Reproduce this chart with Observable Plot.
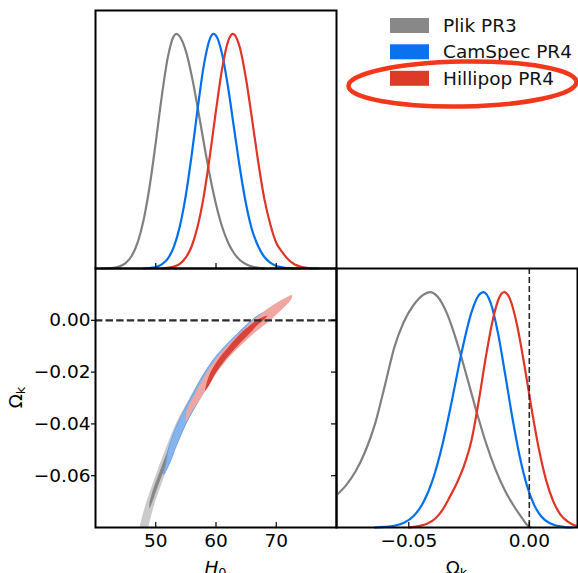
<!DOCTYPE html>
<html><head><meta charset="utf-8">
<script src="https://cdn.jsdelivr.net/npm/d3@7"></script>
<script src="https://cdn.jsdelivr.net/npm/@observablehq/plot@0.6"></script>
<style>
html,body{margin:0;padding:0;overflow:hidden;background:#fff;}
#chart{position:relative;width:578px;height:573px;font-family:"DejaVu Sans",sans-serif;}
</style></head><body><div id="chart"></div>
<script>
// ---------- data ----------
const seriesNames = ["Plik PR3", "CamSpec PR4", "Hillipop PR4"];
const lineColors = ["#808080", "#006FED", "#E03424"];
const patchColors = ["#888888", "#0a72ec", "#de3a28"];

const h0Domain = [40, 80];
const okDomain = [-0.08, 0.02];
const densDomain = [0, 1.1];
const h0Ticks = [50, 60, 70];
const okTicksY = [0, -0.02, -0.04, -0.06];
const okTicksX = [-0.05, 0];

// 1D marginal of H0 (H0, normalised density)
const h0Plik = [[41,0],[42,0.001],[43,0.003],[44,0.009],[45,0.023],[46,0.053],[47,0.111],[48,0.209],[49,0.353],[50,0.537],[51,0.734],[52,0.9],[53,0.991],[53.4,1],[54,0.989],[55,0.927],[56,0.818],[57,0.68],[58,0.533],[59,0.393],[60,0.274],[61,0.179],[62,0.111],[63,0.065],[64,0.035],[65,0.018],[66,0.008],[67,0.003],[68,0]];
const h0CamSpec = [[48,0],[49,0.002],[50,0.0064],[51,0.0174],[52,0.042],[53,0.092],[54,0.18],[55,0.314],[56,0.491],[57,0.69],[58,0.869],[59,0.98],[59.6,1],[60,0.993],[61,0.916],[62,0.774],[63,0.597],[64,0.422],[65,0.273],[66,0.163],[67,0.095],[68,0.05],[69,0.025],[70,0.011],[71,0.005],[72,0.002],[74,0]];
const h0Hillipop = [[51,0],[52,0.003],[53,0.008],[54,0.02],[55,0.047],[56,0.097],[57,0.184],[58,0.313],[59,0.483],[60,0.674],[61,0.849],[62,0.968],[62.8,1],[63,0.998],[64,0.938],[65,0.806],[66,0.634],[67,0.456],[68,0.3],[69,0.19],[70,0.11],[71,0.07],[72,0.038],[73,0.018],[74,0.008],[75,0.003],[77,0]];

// 1D marginal of Omega_k
const okPlik = [[-0.08,0.137],[-0.076,0.18],[-0.072,0.24],[-0.068,0.325],[-0.064,0.44],[-0.06,0.6],[-0.056,0.765],[-0.052,0.875],[-0.048,0.945],[-0.044,0.988],[-0.0413,1],[-0.038,0.98],[-0.034,0.905],[-0.03,0.786],[-0.026,0.644],[-0.022,0.496],[-0.018,0.36],[-0.014,0.246],[-0.01,0.155],[-0.006,0.085],[-0.003,0.04],[-0.001,0.012],[0.0005,0]];
const okCamSpec = [[-0.064,0],[-0.06,0.0024],[-0.056,0.0073],[-0.052,0.02],[-0.048,0.049],[-0.044,0.106],[-0.04,0.205],[-0.036,0.354],[-0.032,0.545],[-0.028,0.748],[-0.024,0.914],[-0.021,0.986],[-0.019,1],[-0.016,0.953],[-0.013,0.826],[-0.01,0.65],[-0.007,0.465],[-0.004,0.303],[-0.001,0.179],[0.002,0.096],[0.005,0.047],[0.008,0.021],[0.011,0.0084],[0.014,0.003],[0.018,0]];
const okHillipop = [[-0.05,0],[-0.048,0.003],[-0.045,0.008],[-0.042,0.018],[-0.039,0.038],[-0.036,0.075],[-0.033,0.13],[-0.03,0.19],[-0.027,0.265],[-0.024,0.37],[-0.021,0.536],[-0.018,0.726],[-0.015,0.889],[-0.0125,0.976],[-0.0104,1],[-0.008,0.97],[-0.005,0.856],[-0.002,0.687],[0.001,0.501],[0.004,0.332],[0.007,0.2],[0.01,0.11],[0.013,0.054],[0.016,0.025],[0.019,0.008],[0.02,0.005]];

// 2D contours (H0, Omega_k), closed outlines
const plikOuter = [[46.85,-0.086],[47.3,-0.08],[48.45,-0.07],[49.95,-0.06],[51.55,-0.05],[53.3,-0.04],[55.6,-0.03],[58.1,-0.02],[59.9,-0.015],[61.0,-0.0125],[61.2,-0.015],[59.7,-0.02],[57.3,-0.03],[55.0,-0.04],[53.1,-0.05],[51.45,-0.06],[49.9,-0.07],[48.75,-0.08],[48.25,-0.086]];
const plikInner = [[48.95,-0.0725],[49.0,-0.07],[49.6,-0.065],[50.4,-0.06],[51.2,-0.055],[52.05,-0.05],[52.95,-0.045],[53.9,-0.04],[54.65,-0.0365],[54.45,-0.04],[53.55,-0.045],[52.7,-0.05],[51.85,-0.055],[51.0,-0.06],[50.2,-0.065],[49.45,-0.07]];
const camspecOuter = [[51.3,-0.0595],[51.7,-0.055],[52.05,-0.05],[52.75,-0.045],[53.6,-0.04],[54.65,-0.035],[55.8,-0.03],[56.95,-0.025],[58.15,-0.02],[59.6,-0.015],[61.45,-0.01],[63.6,-0.005],[65.9,0],[67.4,0.0025],[68.8,0.0036],[68.95,0.0018],[68.4,0],[65.8,-0.005],[63.55,-0.01],[61.55,-0.015],[60.0,-0.02],[58.65,-0.025],[57.4,-0.03],[56.15,-0.035],[55.0,-0.04],[54.05,-0.045],[53.15,-0.05],[52.35,-0.055]];
const hillipopOuter = [[55.0,-0.0392],[55.15,-0.035],[56.15,-0.03],[57.3,-0.025],[58.5,-0.02],[59.95,-0.015],[61.8,-0.01],[63.95,-0.005],[66.2,0],[68.9,0.005],[71.4,0.0085],[72.6,0.0097],[72.5,0.0082],[71.3,0.005],[69.0,0],[66.3,-0.005],[63.95,-0.01],[61.85,-0.015],[60.2,-0.02],[58.8,-0.025],[57.45,-0.03],[56.0,-0.035]];
const hillipopInner = [[58.2,-0.0272],[58.35,-0.025],[59.1,-0.02],[60.4,-0.015],[62.15,-0.01],[64.1,-0.005],[65.6,-0.002],[66.75,0],[68.5,0.0018],[67.85,0],[66.8,-0.002],[65.6,-0.005],[63.5,-0.01],[61.6,-0.015],[60.05,-0.02],[58.9,-0.025]];

// ---------- layout helpers ----------
const FONT = "DejaVu Sans";
const FS = 18.5;
const chart = document.getElementById("chart");
function place(svg, left, top) {
  svg.style.position = "absolute";
  svg.style.left = left + "px";
  svg.style.top = top + "px";
  svg.style.background = "none";
  svg.style.overflow = "visible";
  svg.style.maxWidth = "none";
  chart.appendChild(svg);
  return svg;
}
const fx = v => v;
const px = d => d[0], py = d => d[1];
const fmt2 = d3.format(".2f");
const lineOpts = (c) => ({x: px, y: py, stroke: c, strokeWidth: 2.2, curve: "monotone-x"});
const polyOpts = (fill, stroke, sw) => ({x: px, y: py, fill, stroke: stroke || "none", strokeWidth: sw || 0, curve: "catmull-rom-closed", clip: true});

// ---------- panel A: H0 marginal ----------
const wA = 340, hA = 272, fwA = 241, fhA = 258;
const A = Plot.plot({
  width: wA, height: hA, marginLeft: 95, marginRight: 4, marginTop: 10, marginBottom: 4,
  style: {fontFamily: FONT},
  x: {domain: h0Domain, axis: null},
  y: {domain: densDomain, axis: null},
  marks: [
    Plot.line(h0Plik, lineOpts(lineColors[0])),
    Plot.line(h0CamSpec, lineOpts(lineColors[1])),
    Plot.line(h0Hillipop, lineOpts(lineColors[2])),
    Plot.ruleX(h0Ticks, {x: fx, insetTop: fhA - 5, stroke: "black", strokeWidth: 1.2}),
    Plot.frame({stroke: "black", strokeWidth: 2})
  ]
});
place(A, 0, 0);

// ---------- panel B: 2D H0 vs Omega_k ----------
const wB = 340, hB = 330, fwB = 241, fhB = 259;
const B = Plot.plot({
  width: wB, height: hB, marginLeft: 95, marginRight: 4, marginTop: 10, marginBottom: 61,
  style: {fontFamily: FONT},
  x: {domain: h0Domain, axis: null},
  y: {domain: okDomain, axis: null},
  marks: [
    Plot.line(plikOuter, polyOpts("#cbcbcb")),
    Plot.line(plikInner, polyOpts("#878787")),
    Plot.line(camspecOuter, polyOpts("#86b5ee", "#5f9be6", 0.8)),
    Plot.line(hillipopOuter, polyOpts("#f0a7a1")),
    Plot.line(hillipopInner, polyOpts("#d8443a")),
    Plot.ruleY([0], {y: fx, stroke: "#2b2b2b", strokeWidth: 2.2, strokeDasharray: "7.4,3.2"}),
    Plot.ruleX(h0Ticks, {x: fx, insetTop: fhB - 5, stroke: "black", strokeWidth: 1.2}),
    Plot.ruleY(okTicksY, {y: fx, insetLeft: fwB - 5, stroke: "black", strokeWidth: 1.2}),
    Plot.ruleY(okTicksY, {y: fx, insetRight: fwB - 4, dx: -4, stroke: "black", strokeWidth: 1.2}),
    Plot.text(h0Ticks, {x: fx, frameAnchor: "bottom", lineAnchor: "top", dy: 6, text: d => String(d), fontSize: FS, fill: "black"}),
    Plot.text(okTicksY, {y: fx, frameAnchor: "left", textAnchor: "end", dx: -5, text: fmt2, fontSize: FS, fill: "black"}),
    Plot.frame({stroke: "black", strokeWidth: 2})
  ]
});
place(B, 0, 258);
{
  const s = d3.select(B);
  const t = s.append("text").attr("x", 95 + fwB / 2).attr("y", 316)
    .attr("text-anchor", "middle").attr("font-family", FONT).attr("font-size", FS).attr("fill", "black");
  t.append("tspan").attr("font-style", "italic").text("H");
  t.append("tspan").attr("font-size", FS * 0.7).attr("dy", "0.25em").text("0");
  const ty = s.append("text").attr("transform", `translate(22,${10 + fhB / 2}) rotate(-90)`)
    .attr("text-anchor", "middle").attr("font-family", FONT).attr("font-size", FS).attr("fill", "black");
  ty.append("tspan").text("Ω");
  ty.append("tspan").attr("font-size", FS * 0.7).attr("dy", "0.25em").text("k");
}

// ---------- panel C: Omega_k marginal ----------
const wC = 246, hC = 330, fwC = 241, fhC = 259;
const C = Plot.plot({
  width: wC, height: hC, marginLeft: 4, marginRight: 1, marginTop: 10, marginBottom: 61,
  style: {fontFamily: FONT},
  x: {domain: okDomain, axis: null},
  y: {domain: densDomain, axis: null},
  marks: [
    Plot.line(okPlik, lineOpts(lineColors[0])),
    Plot.line(okCamSpec, lineOpts(lineColors[1])),
    Plot.line(okHillipop, lineOpts(lineColors[2])),
    Plot.ruleX([0], {x: fx, stroke: "#2b2b2b", strokeWidth: 1.6, strokeDasharray: "6,3"}),
    Plot.ruleX(okTicksX, {x: fx, insetTop: fhC - 5, stroke: "black", strokeWidth: 1.2}),
    Plot.text(okTicksX, {x: fx, frameAnchor: "bottom", lineAnchor: "top", dy: 6, text: fmt2, fontSize: FS, fill: "black"}),
    Plot.frame({stroke: "black", strokeWidth: 2})
  ]
});
place(C, 332, 258);
{
  const s = d3.select(C);
  const t = s.append("text").attr("x", 4 + fwC / 2).attr("y", 316)
    .attr("text-anchor", "middle").attr("font-family", FONT).attr("font-size", FS).attr("fill", "black");
  t.append("tspan").text("Ω");
  t.append("tspan").attr("font-size", FS * 0.7).attr("dy", "0.25em").text("k");
}

// ---------- legend + highlight ----------
const leg = d3.create("svg").attr("width", 578).attr("height", 573)
  .style("position", "absolute").style("left", "0px").style("top", "0px").style("pointer-events", "none");
const rowY = [25.5, 51.8, 78.3];
seriesNames.forEach((name, i) => {
  leg.append("rect").attr("x", 390).attr("y", rowY[i] - 7.5).attr("width", 39).attr("height", 15).attr("fill", patchColors[i]);
  leg.append("text").attr("x", 443).attr("y", rowY[i]).attr("dy", "0.36em")
    .attr("font-family", FONT).attr("font-size", FS).attr("fill", "#111").text(name);
});
leg.append("ellipse").attr("cx", 462.5).attr("cy", 84).attr("rx", 114).attr("ry", 22.5)
  .attr("transform", "rotate(-1 462.5 84)")
  .attr("fill", "none").attr("stroke", "#f2371a").attr("stroke-width", 4.5);
chart.appendChild(leg.node());
</script></body></html>
